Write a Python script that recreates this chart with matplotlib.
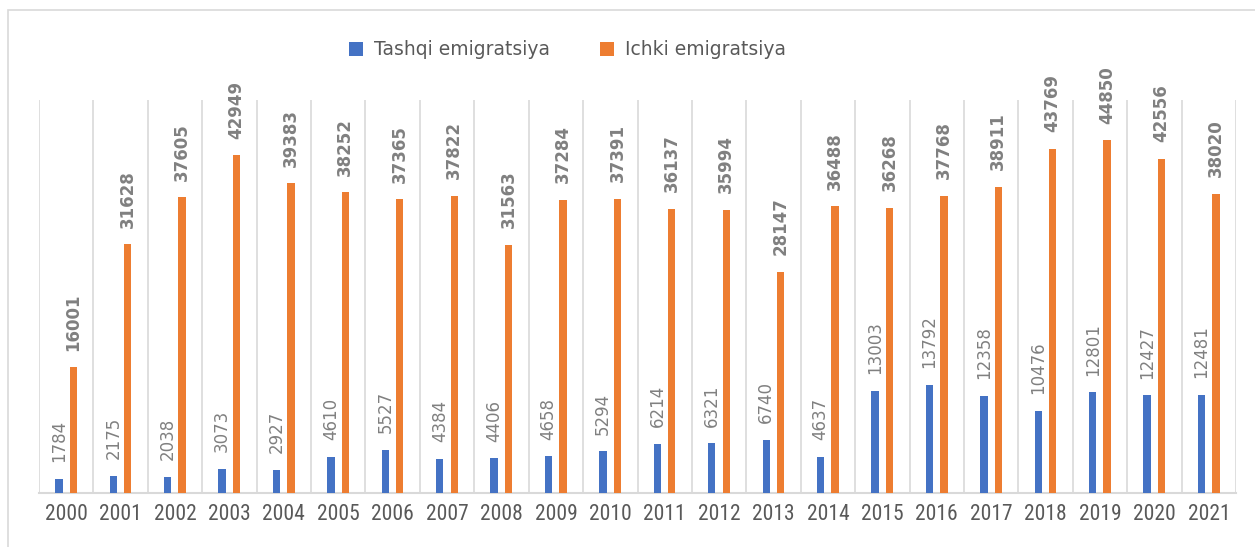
import matplotlib.pyplot as plt
from matplotlib.patches import Rectangle

years = ["2000", "2001", "2002", "2003", "2004", "2005", "2006", "2007", "2008", "2009", "2010",
         "2011", "2012", "2013", "2014", "2015", "2016", "2017", "2018", "2019", "2020", "2021"]
tashqi = [1784, 2175, 2038, 3073, 2927, 4610, 5527, 4384, 4406, 4658, 5294,
          6214, 6321, 6740, 4637, 13003, 13792, 12358, 10476, 12801, 12427, 12481]
ichki = [16001, 31628, 37605, 42949, 39383, 38252, 37365, 37822, 31563, 37284, 37391,
         36137, 35994, 28147, 36488, 36268, 37768, 38911, 43769, 44850, 42556, 38020]

blue = "#4472C4"
orange = "#ED7D31"
grid = "#D9D9D9"

fig = plt.figure(figsize=(12.55, 5.47), dpi=100)
ax = fig.add_axes([0.0311, 0.0987, 0.9538, 0.7185])

# outer chart frame
fig.patches.append(Rectangle((8 / 1255, -0.01), 1.0, (537 / 547) + 0.01,
                             transform=fig.transFigure, fill=False,
                             edgecolor="#D9D9D9", linewidth=1.2))

x = list(range(len(years)))
w = 0.135
xb = [i - 0.135 for i in x]
xo = [i + 0.13 for i in x]

ax.bar(xb, tashqi, width=w, color=blue, zorder=3, label="Tashqi emigratsiya")
ax.bar(xo, ichki, width=w, color=orange, zorder=3, label="Ichki emigratsiya")

for xi, v in zip(xb, tashqi):
    ax.annotate(str(v), (xi, v), xytext=(0, 12), textcoords="offset points",
                rotation=90, ha="center", va="bottom", fontsize=12, color="#808080")
for xi, v in zip(xo, ichki):
    ax.annotate(str(v), (xi, v), xytext=(0, 12), textcoords="offset points",
                rotation=90, ha="center", va="bottom", fontsize=12,
                fontweight="bold", color="#808080")

for b in range(len(years) + 1):
    ax.axvline(b - 0.5, color=grid, linewidth=1.2, zorder=1)

ax.set_xlim(-0.5, len(years) - 0.5)
ax.set_ylim(0, 50000)
ax.set_yticks([])
ax.set_xticks(x)
ax.set_xticklabels(years, fontsize=15.5, color="#595959",
                   family=["Roboto Condensed", "DejaVu Sans"], fontstretch="condensed")
ax.tick_params(axis="x", length=0, pad=8)
for s in ["top", "right", "left"]:
    ax.spines[s].set_visible(False)
ax.spines["bottom"].set_color(grid)
ax.spines["bottom"].set_linewidth(1.5)

fig.legend(loc="center", bbox_to_anchor=(0.4522, 0.9086), ncol=2, frameon=False,
           fontsize=13.5, labelcolor="#595959", handlelength=0.75, handleheight=0.75,
           columnspacing=2.7, handletextpad=0.55)

fig.savefig("out.png", dpi=100)
